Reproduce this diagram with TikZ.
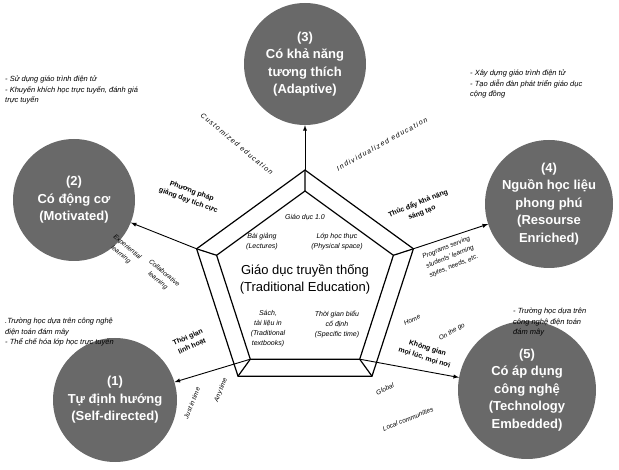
\documentclass[tikz,border=0pt]{standalone}
\usepackage{fontspec}
\setmainfont{Liberation Sans}
\definecolor{bubblegray}{RGB}{105,105,105}

\begin{document}
\begin{tikzpicture}[x=1pt,y=1pt,
  bubble/.style={circle,fill=bubblegray,text=white,align=center,font=\fontsize{13}{17.5}\selectfont\bfseries},
  note/.style={anchor=north west,align=left,font=\fontsize{7.5}{10.5}\selectfont\itshape},
  cell/.style={align=center,font=\fontsize{7}{10}\selectfont\itshape},
  tag/.style={align=center,font=\fontsize{6.5}{10}\selectfont\itshape},
  wide/.style={font=\fontsize{7}{9}\selectfont\itshape\addfontfeature{LetterSpace=18}},
  key/.style={align=center,font=\fontsize{7}{10}\selectfont\bfseries},
  arr/.style={-latex,line width=0.9pt},
  frame/.style={line width=1.2pt}]
\tikzstyle{every node}+=[inner sep=0pt]
\useasboundingbox (0,0) rectangle (619,-470);
\node [bubble,minimum size=122pt] (adapt) at (305,-64) {(3)\\Có khả năng\\tương thích\\(Adaptive)};
\node [bubble,minimum size=122pt] (motiv) at (74,-200) {(2)\\Có động cơ\\(Motivated)};
\node [bubble,minimum size=128pt] (rich) at (549,-204) {(4)\\Nguồn học liệu\\phong phú\\(Resourse\\Enriched)};
\node [bubble,minimum size=124pt] (self) at (115,-400) {(1)\\Tự định hướng\\(Self-directed)};
\node [bubble,minimum size=138pt] (tech) at (527,-390) {(5)\\Có áp dụng\\công nghệ\\(Technology\\Embedded)};
\coordinate (o1) at (305,-170);
\coordinate (o2) at (413.4,-248.8);
\coordinate (o3) at (372,-376.2);
\coordinate (o4) at (238,-376.2);
\coordinate (o5) at (196.6,-248.8);
\coordinate (i1) at (305,-191);
\coordinate (i2) at (393.4,-255.3);
\coordinate (i3) at (359.7,-359.2);
\coordinate (i4) at (250.3,-359.2);
\coordinate (i5) at (216.6,-255.3);
\draw [frame] (o1) -- (o2) -- (o3) -- (o4) -- (o5) -- cycle;
\draw [frame] (i1) -- (i2) -- (i3) -- (i4) -- (i5) -- cycle;
\draw [frame] (o1) -- (i1) (o2) -- (i2) (o3) -- (i3) (o4) -- (i4) (o5) -- (i5);
\draw [arr] (o1) -- (adapt);
\draw [arr] (o5) -- (motiv);
\draw [arr] (o2) -- (rich);
\draw [arr] (i4) -- (self);
\draw [arr] (i3) -- (tech);
\node [cell] (ver) at (305,-217) {Giáo dục 1.0};
\node [cell] (lect) at (262,-242) {Bài giảng\\(Lectures)};
\node [cell] (room) at (337,-242) {Lớp học thực\\(Physical space)};
\node [align=center,font=\fontsize{13}{17}\selectfont] (trad) at (305,-279) {Giáo dục truyền thống\\(Traditional Education)};
\node [cell] (book) at (268,-329) {Sách,\\tài liệu in\\(Traditional\\textbooks)};
\node [cell] (time) at (337,-324) {Thời gian biểu\\cố định\\(Specific time)};
\node [wide,rotate=-40] (cust) at (237,-144) {Customized education};
\node [wide,rotate=29] (indiv) at (382,-144) {Individualized education};
\node [key,rotate=-20] (active) at (190,-196) {Phương pháp\\giảng dạy tích cực};
\node [tag,rotate=-40] (exper) at (124,-251) {Experiential\\learning};
\node [tag,rotate=-40] (collab) at (161,-277) {Collaborative\\learning};
\node [key,rotate=22] (create) at (420,-208) {Thúc đẩy khả năng\\sáng tạo};
\node [tag,rotate=22] (prog) at (450,-257) {Programs serving\\students' learning\\styles, needs, etc.};
\node [key,rotate=24] (flex) at (190,-342) {Thời gian\\linh hoạt};
\node [tag,rotate=68] (just) at (192,-403) {Just in time};
\node [tag,rotate=68] (any) at (221,-390) {Any time};
\node [tag,rotate=25] (home) at (412,-320) {Home};
\node [tag,rotate=30] (go) at (452,-332) {On the go};
\node [key,rotate=-18] (space) at (426,-353) {Không gian\\mọi lúc, mọi nơi};
\node [tag,rotate=25] (glob) at (385,-389) {Global};
\node [tag,rotate=22] (local) at (408,-419) {Local communities};
\node [note] (n2) at (5,-76) {- Sử dụng giáo trình điện tử\\- Khuyến khích học trực tuyến, đánh giá\\trực tuyến};
\node [note] (n4) at (470,-70) {- Xây dựng giáo trình điện tử\\- Tạo diễn đàn phát triển giáo dục\\cộng đồng};
\node [note] (n1) at (5,-318) {.Trường học dựa trên công nghệ\\điện toán đám mây\\- Thể chế hóa lớp học trực tuyến};
\node [note] (n5) at (513,-308) {- Trường học dựa trên\\công nghệ điện toán\\đám mây};
\end{tikzpicture}
\end{document}
